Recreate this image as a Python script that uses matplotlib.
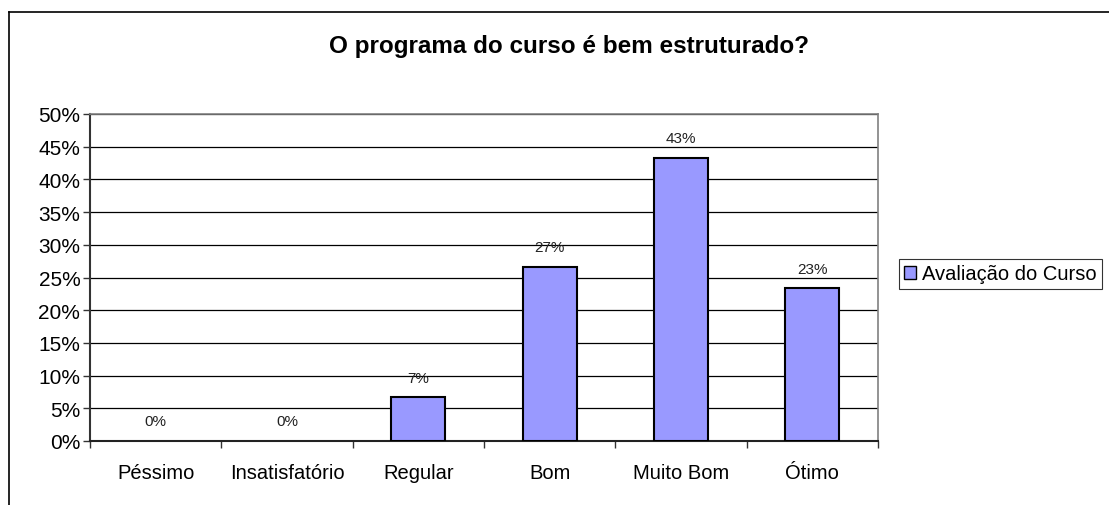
import matplotlib.pyplot as plt
from matplotlib.lines import Line2D
from matplotlib.patches import Patch

categorias = ['Péssimo', 'Insatisfatório', 'Regular', 'Bom', 'Muito Bom', 'Ótimo']
valores = [0.0, 0.0, 6.67, 26.67, 43.33, 23.33]
rotulos = ['0%', '0%', '7%', '27%', '43%', '23%']
serie = 'Avaliação do Curso'
titulo = 'O programa do curso é bem estruturado?'

plt.rcParams['font.family'] = ['Liberation Sans', 'DejaVu Sans']

W, H = 1109, 506
fig = plt.figure(figsize=(W / 100, H / 100), dpi=100)
ax = fig.add_axes([90 / W, 1 - 442 / H, (878 - 90) / W, (442 - 115) / H])

x = list(range(len(categorias)))
barras = ax.bar(x, valores, width=0.41, color='#9999FF', edgecolor='black', linewidth=1.5, zorder=3)
for b, v in zip(barras, valores):
    if v == 0:
        b.set_visible(False)

for xi, v, r in zip(x, valores, rotulos):
    ax.annotate(r, (xi, v), xytext=(0, 9), textcoords='offset points',
                ha='center', va='bottom', fontsize=11, color='#222222')

ax.set_xlim(-0.5, len(categorias) - 0.5)
ax.set_ylim(0, 50)
ax.set_yticks(range(0, 51, 5))
ax.set_yticklabels([f'{t}%' for t in range(0, 51, 5)], fontsize=15)
ax.yaxis.grid(True, color='black', linewidth=0.9, zorder=0)
ax.set_axisbelow(True)

ax.set_xticks(x)
ax.set_xticklabels(categorias, fontsize=14.5)
ax.tick_params(axis='x', length=0, pad=16)
ax.set_xticks([i - 0.5 for i in range(len(categorias) + 1)], minor=True)
ax.tick_params(axis='x', which='minor', length=5, width=1, color='#333333', direction='out')
ax.tick_params(axis='y', length=5, width=1, color='#333333', direction='out', pad=2)

for s in ['top', 'right']:
    ax.spines[s].set_color('#808080')
    ax.spines[s].set_linewidth(1.2)
ax.spines['left'].set_color('#333333')
ax.spines['left'].set_linewidth(1.5)
ax.spines['bottom'].set_color('#222222')
ax.spines['bottom'].set_linewidth(1.5)

fig.text(569 / W, 1 - 46 / H, titulo, ha='center', va='center',
         fontsize=17.5, fontweight='bold')

leg = fig.legend(handles=[Patch(facecolor='#9999FF', edgecolor='black', label=serie)],
                 loc='center left', bbox_to_anchor=(899 / W, 1 - 275 / H),
                 fontsize=14.5, frameon=True, fancybox=False, handlelength=0.6,
                 handleheight=0.6, handletextpad=0.3, borderpad=0.25, borderaxespad=0)
leg.get_frame().set_edgecolor('black')
leg.get_frame().set_linewidth(0.8)

# borda externa do gráfico (só esquerda e topo aparecem)
fig.add_artist(Line2D([9 / W, 9 / W], [0, 1 - 13 / H], color='black', linewidth=1.2))
fig.add_artist(Line2D([9 / W, 1], [1 - 13 / H, 1 - 13 / H], color='black', linewidth=1.2))

fig.savefig('out.png', dpi=100)
